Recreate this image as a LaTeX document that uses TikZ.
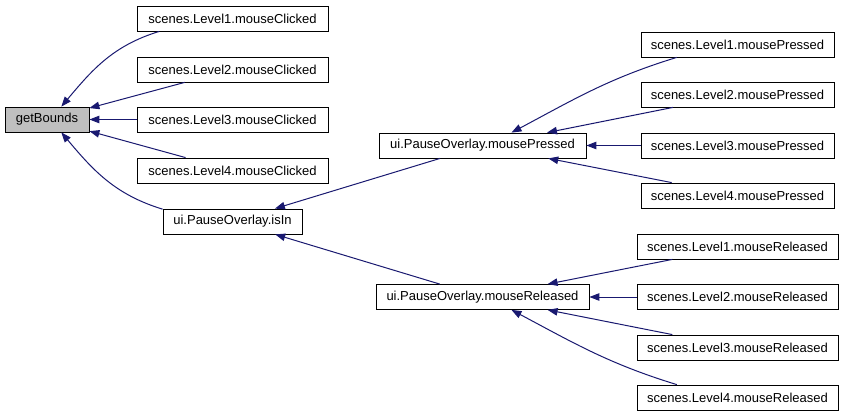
\documentclass[tikz,border=0pt]{standalone}
\usepackage{fontspec}
\setmainfont{Liberation Sans}
\usepackage{tikz}
\usetikzlibrary{arrows.meta}
\usepackage{xcolor}
\definecolor{edgeblue}{HTML}{191970}
\definecolor{curgray}{HTML}{BFBFBF}

\begin{document}
\begin{tikzpicture}[
x=1pt,y=1pt,
box/.style={rectangle,draw=black,line width=0.8pt,fill=white,align=center,inner sep=0pt,minimum height=25pt,font=\fontsize{13}{15}\selectfont},
arr/.style={-{Triangle[length=10pt,width=7.5pt]},draw=edgeblue,line width=1pt}
]
\useasboundingbox (0,0) rectangle (844,-417);
\node[box,fill=curgray,minimum width=84pt] (getb) at (47,-119.5) {getBounds};
\node[box,minimum width=191pt] (clicked1) at (232.5,-18.5) {scenes.Level1.mouseClicked};
\node[box,minimum width=191pt] (clicked2) at (232.5,-69.5) {scenes.Level2.mouseClicked};
\node[box,minimum width=191pt] (clicked3) at (232.5,-119.5) {scenes.Level3.mouseClicked};
\node[box,minimum width=191pt] (clicked4) at (232.5,-170.5) {scenes.Level4.mouseClicked};
\node[box,minimum width=139pt] (isin) at (232.5,-221.5) {ui.PauseOverlay.isIn};
\node[box,minimum width=207pt] (pressed) at (482.5,-145.5) {ui.PauseOverlay.mousePressed};
\node[box,minimum width=213pt] (released) at (482.5,-297) {ui.PauseOverlay.mouseReleased};
\node[box,minimum width=193pt] (lvpress1) at (737.5,-44.5) {scenes.Level1.mousePressed};
\node[box,minimum width=193pt] (lvpress2) at (737.5,-94.5) {scenes.Level2.mousePressed};
\node[box,minimum width=193pt] (lvpress3) at (737.5,-145.5) {scenes.Level3.mousePressed};
\node[box,minimum width=193pt] (lvpress4) at (737.5,-195.5) {scenes.Level4.mousePressed};
\node[box,minimum width=201pt] (lvrel1) at (737.5,-246.5) {scenes.Level1.mouseReleased};
\node[box,minimum width=201pt] (lvrel2) at (737.5,-297) {scenes.Level2.mouseReleased};
\node[box,minimum width=201pt] (lvrel3) at (737.5,-347.5) {scenes.Level3.mouseReleased};
\node[box,minimum width=201pt] (lvrel4) at (737.5,-397.5) {scenes.Level4.mouseReleased};

% callers of getBounds
\draw[arr] (clicked1.190) to[out=197,in=50] (getb.42);
\draw[arr] (clicked2) -- (getb);
\draw[arr] (clicked3) -- (getb);
\draw[arr] (clicked4) -- (getb);
\draw[arr] (isin.170) to[out=163,in=-50] (getb.-42);

% callers of isIn
\draw[arr] (pressed) -- (isin);
\draw[arr] (released) -- (isin);

% callers of mousePressed / mouseReleased
\draw[arr] (lvpress1.192) to[out=197,in=28] (pressed.24);
\draw[arr] (lvpress2) -- (pressed);
\draw[arr] (lvpress3) -- (pressed);
\draw[arr] (lvpress4) -- (pressed);
\draw[arr] (lvrel1) -- (released);
\draw[arr] (lvrel2) -- (released);
\draw[arr] (lvrel3) -- (released);
\draw[arr] (lvrel4.168) to[out=163,in=-28] (released.-24);
\end{tikzpicture}
\end{document}
